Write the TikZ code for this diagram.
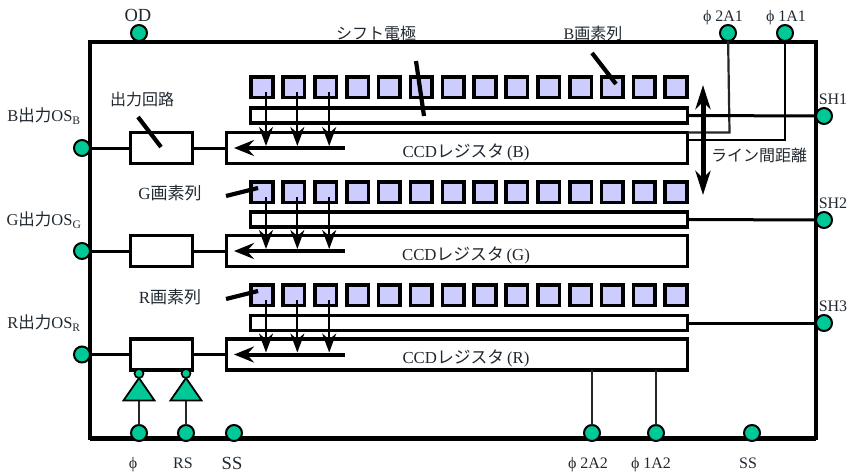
\documentclass[tikz,border=0pt]{standalone}
\usepackage{fontspec}
\setmainfont{Liberation Serif}
\newfontfamily\jp{Noto Sans CJK JP}
\usetikzlibrary{arrows.meta,calc}
\definecolor{pin}{HTML}{00C896}
\definecolor{px}{HTML}{CCCCFF}
\definecolor{ink}{HTML}{202830}
\tikzset{
  x=1pt,y=-1pt,
  pinnode/.style={circle,draw=black,fill=pin,line width=2pt,minimum size=16pt,inner sep=0pt,outer sep=0pt},
  smallpin/.style={circle,draw=black,fill=pin,line width=1.6pt,minimum size=9pt,inner sep=0pt,outer sep=0pt},
  pixel/.style={rectangle,draw=black,fill=px,line width=3.6pt,minimum width=21.6pt,minimum height=20.6pt,inner sep=0pt,outer sep=0pt},
  regbox/.style={rectangle,draw=black,fill=white,line width=3.2pt,inner sep=0pt,outer sep=0pt},
  lbl/.style={inner sep=0pt,text=ink,font=\fontsize{16}{17}\selectfont},
  ccdlbl/.style={lbl,font=\fontsize{16.8}{18}\selectfont},
  wire/.style={draw=black,line width=3pt},
  thinwire/.style={draw=black!85,line width=2.2pt},
  callout/.style={draw=black,line width=4.2pt},
  down/.style={draw=black,line width=2.2pt,-{Stealth[length=19pt,width=14pt,inset=6pt]}},
  shiftarr/.style={draw=black,line width=4pt,-{Stealth[length=20pt,width=16pt,inset=7pt]}},
  span/.style={draw=black,line width=5pt,{Stealth[length=24pt,width=15pt,inset=7pt]}-{Stealth[length=24pt,width=15pt,inset=7pt]}},
  amp/.style={draw=black,fill=pin,line width=1.8pt,line join=miter},
}
\begin{document}
\begin{tikzpicture}
\useasboundingbox (0,0) rectangle (850,475);
% labels that the frame overlaps
\node[lbl] (lshift) at (376,33) {\jp シフト電極};
\node[lbl] (lbrow) at (593,33) {B{\jp 画素列}};
% frame
\node[rectangle,draw=black,line width=3.6pt,minimum width=726pt,minimum height=396pt,inner sep=0pt,outer sep=0pt] (frame) at (453,240) {};
\draw[line width=5pt] (frame.south west) -- (frame.south east);
% output boxes, registers, electrodes
\foreach \r/\yc/\ye/\yp in {B/148/115.5/87, G/251/219.5/192, R/354.5/323/295}{
  \node[regbox,minimum width=62pt,minimum height=31pt] (out\r) at (161.5,\yc) {};
  \node[regbox,minimum width=461pt,minimum height=31pt] (ccd\r) at (457,\yc) {};
  \node[regbox,minimum width=437pt,minimum height=15pt] (el\r) at (469,\ye) {};
  \foreach \i in {0,...,13}{
    \node[pixel] (s\r\i) at ({262+31.85*\i},\yp) {};
  }
}
% output pins and connectors
\foreach \r/\yc in {B/148,G/251,R/354.5}{
  \node[pinnode] (pl\r) at (82,\yc) {};
  \draw[wire] (pl\r) -- (out\r);
  \draw[wire] (out\r) -- (ccd\r);
}
% horizontal shift arrows and transfer arrows
\foreach \r/\yc in {B/148,G/251,R/354.5}{
  \coordinate (hs\r) at (345,\yc);
  \coordinate (he\r) at (234,\yc);
  \draw[shiftarr] (hs\r) -- (he\r);
  \foreach \i/\dx in {0/4,1/3.5,2/3.5}{
    \coordinate (va) at ([xshift=\dx pt,yshift=-5pt]s\r\i.center);
    \draw[down] (va) -- ($(va |- hs\r)+(0,-2)$);
  }
}
% top pins
\node[pinnode] (pod) at (139,33) {};
\node[pinnode] (p2a1) at (728,33) {};
\node[pinnode] (p1a1) at (785,33) {};
\coordinate (w2) at (ccdB.north east);
\coordinate (w1) at ($(ccdB.east)+(0,-8)$);
\draw[thinwire] (p2a1) -- ($(p2a1 |- w2)+(1.5,0)$) -- (w2);
\draw[wire,line width=2.6pt] (p1a1) |- (w1);
% right pins
\foreach \n/\r/\y in {sh1/B/116,sh2/G/220,sh3/R/323}{
  \node[pinnode] (\n) at (824,\y) {};
  \draw[wire] (el\r.east) -- (\n);
}
% bottom pins
\node[pinnode] (pphi) at (139,433) {};
\node[pinnode] (prs) at (186,433) {};
\node[pinnode] (pss) at (234,433) {};
\node[pinnode] (p2a2) at (592,433) {};
\node[pinnode] (p1a2) at (656,433) {};
\node[pinnode] (pss2) at (752,433) {};
\coordinate (r2) at (p2a2 |- ccdR.south);
\coordinate (r1) at (p1a2 |- ccdR.south);
\draw[thinwire] (r2) -- (p2a2);
\draw[thinwire] (r1) -- (p1a2);
% input amplifiers
\foreach \n/\p/\x in {aa/pphi/139,ab/prs/186}{
  \node[smallpin] (c\n) at (\x,373.5) {};
  \coordinate (t\n) at (\x,378);
  \coordinate (b\n) at (\x,400.5);
  \draw[thinwire] (b\n) -- (\p);
  \draw[amp] (t\n) -- ($(b\n)+(-15.5,0)$) -- ($(b\n)+(15.5,0)$) -- cycle;
}
% callout strokes
\draw[callout] (138,117) -- (161,147);
\draw[callout] (416,61) -- (424,116);
\draw[callout] (592,53) -- (616,84);
\draw[callout] (226,196) -- (258,188);
\draw[callout] (226,299) -- (258,291);
% span arrow
\coordinate (sp1) at (703,85);
\coordinate (sp2) at (703,195);
\draw[span] (sp1) -- (sp2);
% labels
\node[lbl,font=\fontsize{18.5}{19}\selectfont] (lod) at (138,15) {OD};
\node[lbl] (l2a1) at (723,18) {ϕ 2A1};
\node[lbl] (l1a1) at (786,18) {ϕ 1A1};
\node[lbl] (lsh1) at (833,99) {SH1};
\node[lbl] (lsh2) at (833,203) {SH2};
\node[lbl] (lsh3) at (833,306) {SH3};
\node[lbl] (lline) at (759,155) {\jp ライン間距離};
\node[lbl] (lout) at (142,99) {\jp 出力回路};
\node[lbl,font=\fontsize{16.5}{17}\selectfont] (lb) at (44,116) {B{\jp 出力}OS\textsubscript{B}};
\node[lbl,font=\fontsize{16.5}{17}\selectfont] (lg) at (44,220) {G{\jp 出力}OS\textsubscript{G}};
\node[lbl,font=\fontsize{16.5}{17}\selectfont] (lr) at (44,323) {R{\jp 出力}OS\textsubscript{R}};
\node[lbl,font=\fontsize{17}{17}\selectfont] (lgrow) at (170,193) {G{\jp 画素列}};
\node[lbl,font=\fontsize{17}{17}\selectfont] (lrrow) at (170,297) {R{\jp 画素列}};
\node[ccdlbl] (tb) at (466,152) {CCD{\jp レジスタ}\,(B)};
\node[ccdlbl] (tg) at (466,255) {CCD{\jp レジスタ}\,(G)};
\node[ccdlbl] (tr) at (466,358) {CCD{\jp レジスタ}\,(R)};
\node[lbl] (lphi) at (133,465) {ϕ};
\node[lbl] (lrs) at (183,463) {RS};
\node[lbl,font=\fontsize{18.5}{19}\selectfont] (lss) at (232,463) {SS};
\node[lbl] (l2a2) at (588,465) {ϕ 2A2};
\node[lbl] (l1a2) at (651,465) {ϕ 1A2};
\node[lbl] (lss2) at (748,463) {SS};
\end{tikzpicture}
\end{document}
